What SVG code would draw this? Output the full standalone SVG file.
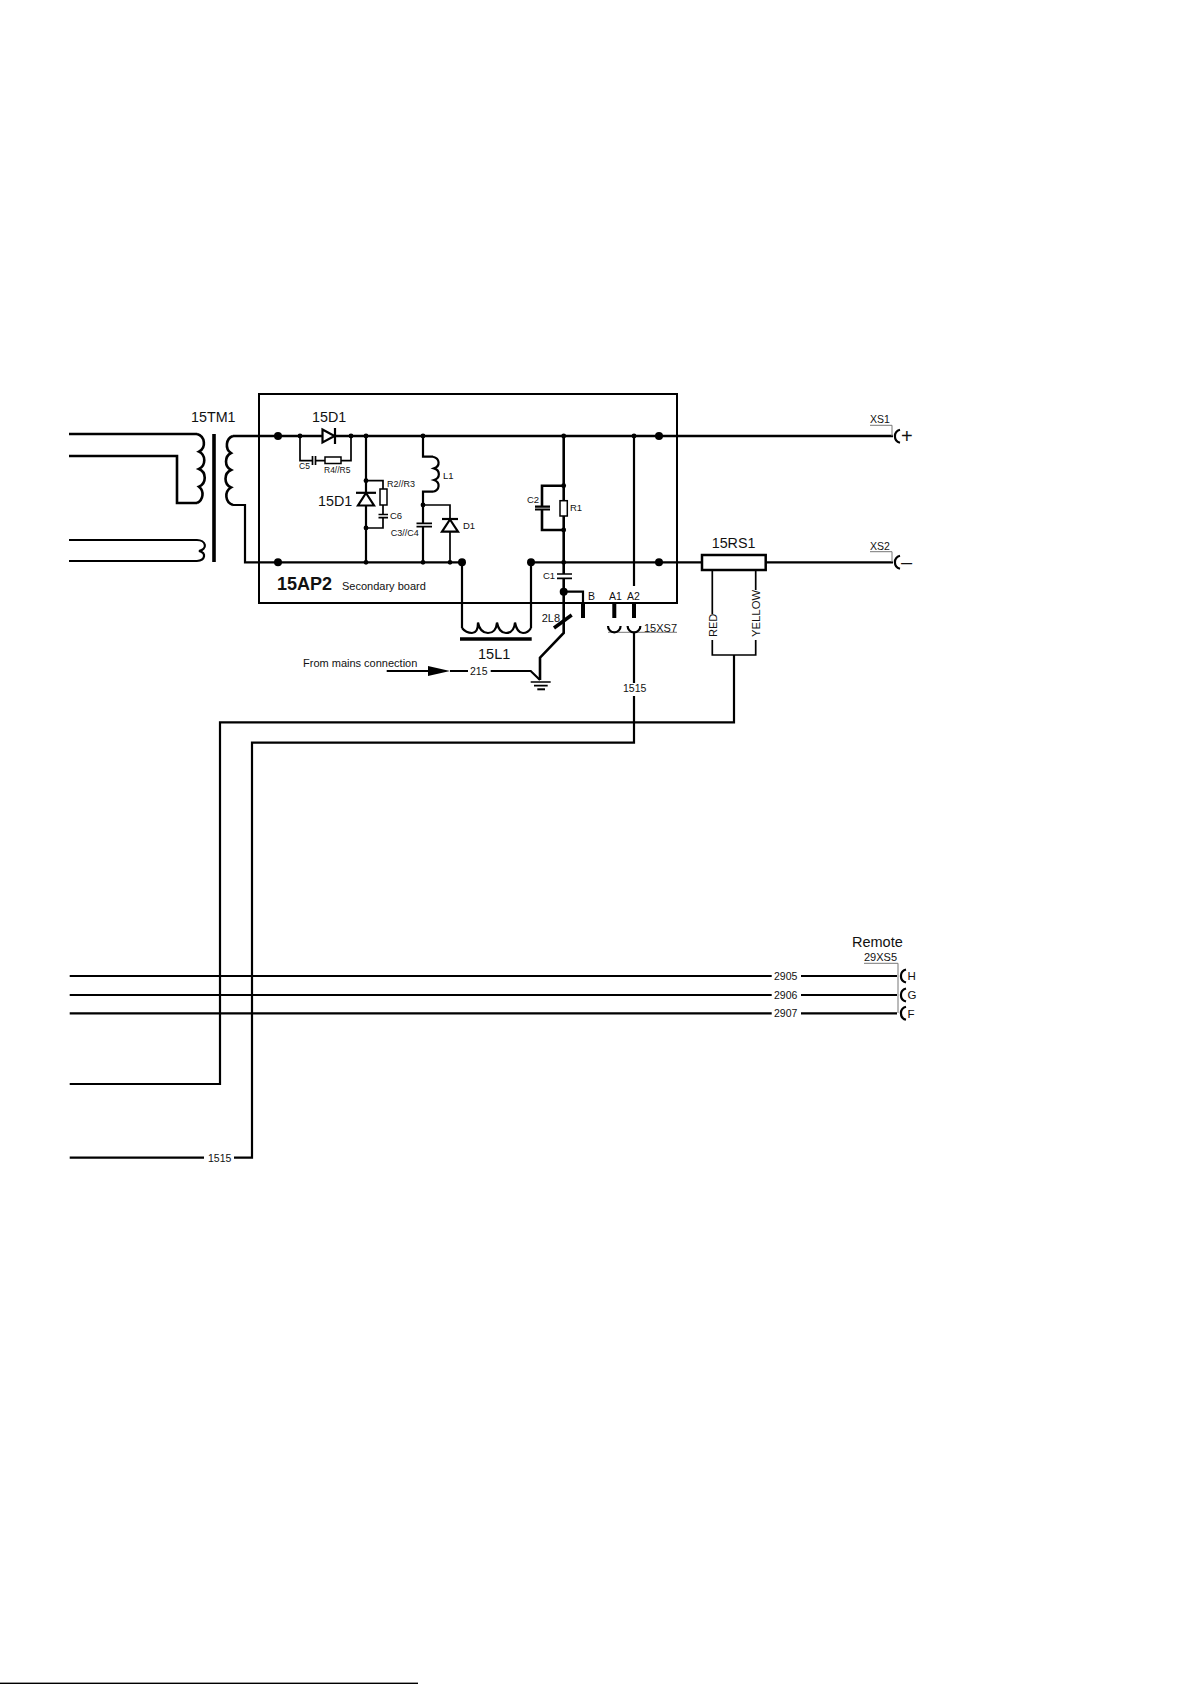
<svg xmlns="http://www.w3.org/2000/svg" width="1191" height="1684" viewBox="0 0 1191 1684">
<style>
text{font-family:"Liberation Sans",Arial,sans-serif;fill:#111}
.w{fill:none;stroke:#000;stroke-width:2.2;stroke-linejoin:miter}
.h{fill:none;stroke:#000;stroke-width:2.6}
.m{fill:none;stroke:#000;stroke-width:1.7}
.t{fill:none;stroke:#777;stroke-width:1}
.p{fill:none;stroke:#000;stroke-width:4}
.b{fill:#000}
.o{fill:#fff;stroke:#000;stroke-width:1.5}
.s7{font-size:8.5px}.s9{font-size:9.5px}.s10{font-size:10.5px}.s11{font-size:11px}.s14{font-size:14.3px}
</style>
<defs>
<circle id="big" r="4" class="b"/>
<circle id="dot" r="2.4" class="b"/>
<path id="sock" d="M8 -6.5A6.7 6.7 0 0 0 8 6.5" fill="none" stroke="#000" stroke-width="2.2"/>
</defs>
<rect width="1191" height="1684" fill="#fff"/>
<g id="connectors">
<path class="h" d="M69 434H197M69 456H177V503H197"/>
<path class="w" d="M69 540H197M69 561H197"/>
<path class="h" d="M233 436H322M335 436H893"/>
<path class="w" d="M233 505H245V562.3H462M531 562.3H702M766 562.3H893"/>
<path class="m" d="M300 436V460.7H312.5M315 460.7H325M341 460.7H351V436"/>
<path class="w" d="M366 436V493M366 506V562"/>
<path class="m" d="M366 480.7H383V489M383 505V514.5M383 517.7V528H366"/>
<path class="w" d="M423 436V456.7H433M433 491.7H423V523.3M423 526.7V562"/>
<path class="m" d="M423 505H450V519M450 532V562"/>
<path class="h" d="M563.7 436V500.7M563.7 516V574M563.7 578.3V633L540 657.7V680"/>
<path class="h" d="M563.7 485.7H542V507M542 509.5V530H563.7"/>
<path class="w" d="M563.7 591.7H583V603"/>
<path class="w" d="M634 436V586"/>
<path class="w" d="M462 562V628M531 562V628"/>
<path class="w" d="M634 633V683M634 696V742.7H252V1157.7H234M204 1157.7H69.7"/>
<path class="m" d="M712.3 570V614M712.3 640V655H755.7V640M755.7 590V570"/>
<path class="w" d="M734 655V722.3H220V1084H69.7"/>
<path class="w" d="M386.7 671H428M450 671H468M490.7 671H530.7L540 680"/>
<path class="w" d="M69.7 976H771.7M801 976H897M69.7 995H771.7M801 995H897M69.7 1013.3H771.7M801 1013.3H897"/>
<path class="t" d="M870 425.3H892V436M870 551.7H892V562M864 963.3H898V1013M608 632.3H677"/>
</g>
<g id="frame-15AP2"><path d="M259 394H677V603H259Z" fill="none" stroke="#000" stroke-width="2"/>
<text x="277" y="590" font-size="18" font-weight="bold">15AP2</text>
<text x="342" y="590" class="s11">Secondary board</text></g>
<g id="n-15TM1">
<path class="h" d="M197 434A9 9.5 0 0 1 199 451.7A9 9.5 0 0 1 199 469A9 9.5 0 0 1 199 486.7A9 9.5 0 0 1 197 503"/>
<path class="w" d="M197 540A8 5.6 0 0 1 199 551A8 5.2 0 0 1 197 561"/>
<path class="h" d="M233 436A9 9.5 0 0 0 231 453A9 9.5 0 0 0 231 470A9 9.5 0 0 0 231 487.5A9 9.5 0 0 0 233 505"/>
<path d="M214 434V562" stroke="#000" stroke-width="3.6" fill="none"/>
<text x="191" y="422" class="s14">15TM1</text></g>
<g id="n-D-top"><path d="M322.5 429.5L334.5 436L322.5 442.5Z" fill="#fff" stroke="#000" stroke-width="2.2"/><path class="w" d="M335 428V444"/>
<text x="312" y="422" class="s14">15D1</text></g>
<g id="n-C5"><path class="m" d="M312.5 456V465M315.5 456V465"/><text x="299" y="469" class="s7">C5</text></g>
<g id="n-R4"><rect x="325" y="457" width="16" height="6.5" class="o"/><text x="324" y="473" class="s7">R4//R5</text></g>
<g id="n-D2"><path d="M366 493L374 505.5H358Z" fill="#fff" stroke="#000" stroke-width="2.2"/><path class="w" d="M356 492.8H376"/>
<text x="318" y="506" class="s14">15D1</text></g>
<g id="n-R2"><rect x="380" y="489" width="7" height="16" class="o"/><text x="387" y="487" style="font-size:9px">R2//R3</text></g>
<g id="n-C6"><path class="m" d="M378.5 514.5H388M378.5 517.7H388"/><text x="390" y="519" class="s9">C6</text></g>
<g id="n-L1"><path class="w" d="M433 456.7A7.5 6.2 0 0 1 434 468.4A7.5 6.2 0 0 1 434 480A7.5 6.2 0 0 1 433 491.7"/><text x="443" y="479" class="s9">L1</text></g>
<g id="n-C3"><path class="m" d="M416.5 523.3H432M416.5 526.7H432"/><text x="390.7" y="536" style="font-size:9px">C3//C4</text></g>
<g id="n-D1"><path d="M450 519.5L458 531.7H442Z" fill="#fff" stroke="#000" stroke-width="2.2"/><path class="w" d="M442 519H458"/><text x="463" y="528.5" class="s9">D1</text></g>
<g id="n-C2"><path class="w" d="M535 506.7H550M535 509.5H550"/><text x="527" y="503" class="s9">C2</text></g>
<g id="n-R1"><rect x="560" y="500.7" width="7.3" height="15.3" class="o"/><text x="570" y="511" class="s9">R1</text></g>
<g id="n-C1"><path class="m" d="M557 574H572M557 578.3H572"/><text x="543" y="579" class="s9">C1</text></g>
<g id="n-15L1"><path class="w" d="M462 628Q466 633 472 633Q478 633 478 622.5Q480 633 488 633Q496 633 497 622.5Q499 633 506 633Q514 633 515 622.5Q517 633 523 633Q528 633 531 628"/>
<path d="M460 639H531.7" stroke="#000" stroke-width="3.6"/><text x="478" y="659" style="font-size:14.5px">15L1</text></g>
<g id="n-2L8"><path d="M554 628L571.7 615" stroke="#000" stroke-width="3.5"/><text x="541.7" y="622" class="s11">2L8</text></g>
<g id="n-ground"><path class="m" d="M530.7 682H550.7M534 685.7H547.7"/><path d="M537.3 689.3H545" stroke="#000" stroke-width="2"/></g>
<g id="n-mains"><path class="b" d="M428 666L450 671L428 676Z"/><text x="303" y="667" class="s11">From mains connection</text><text x="470" y="675" class="s10">215</text></g>
<g id="n-15XS7">
<path class="p" d="M583 603V618M614.3 603V618M634 603V618"/>
<path d="M608 626A6.3 6.3 0 0 0 620.6 626M627.6 626A6.4 6.4 0 0 0 640.4 626" fill="none" stroke="#000" stroke-width="2.2"/>
<text x="588" y="600" class="s10">B</text><text x="609" y="600" class="s10">A1</text><text x="627" y="600" class="s10">A2</text>
<text x="644" y="632" class="s11">15XS7</text><text x="623" y="692" class="s10">1515</text></g>
<g id="n-15RS1"><rect x="702" y="555" width="63.7" height="15" fill="#fff" stroke="#000" stroke-width="2.5"/>
<text x="711.7" y="548" class="s14">15RS1</text>
<text transform="translate(717 637) rotate(-90)" class="s11">RED</text><text transform="translate(760 637) rotate(-90)" style="font-size:11.3px">YELLOW</text></g>
<g id="n-XS1"><use href="#sock" x="892" y="436.3"/><text x="870" y="423.3" class="s10">XS1</text><text x="901" y="443" style="font-size:20px">+</text></g>
<g id="n-XS2"><use href="#sock" x="892" y="562.3"/><text x="870" y="550" class="s10">XS2</text><text x="901" y="569" style="font-size:20px">–</text></g>
<g id="n-29XS5"><use href="#sock" x="898" y="976"/><use href="#sock" x="898" y="995"/><use href="#sock" x="898" y="1013.3"/>
<text x="852" y="947" style="font-size:14.5px">Remote</text><text x="864" y="961" class="s11">29XS5</text>
<text x="907.5" y="980" style="font-size:11.5px">H</text><text x="907.5" y="999" style="font-size:11.5px">G</text><text x="907.5" y="1017.5" style="font-size:11.5px">F</text>
<text x="774" y="979.5" class="s10">2905</text><text x="774" y="998.5" class="s10">2906</text><text x="774" y="1017" class="s10">2907</text></g>
<g id="n-1515-left"><text x="208" y="1162" class="s10">1515</text></g>
<g id="dots">
<use href="#big" x="278" y="436"/><use href="#big" x="278" y="562.3"/><use href="#big" x="462" y="562.3"/><use href="#big" x="531" y="562.3"/><use href="#big" x="659" y="436"/><use href="#big" x="659" y="562.3"/><use href="#big" x="563.7" y="591.7"/>
<use href="#dot" x="300" y="436"/><use href="#dot" x="351" y="436"/><use href="#dot" x="366" y="436"/><use href="#dot" x="423" y="436"/><use href="#dot" x="563.7" y="436"/><use href="#dot" x="634" y="436"/>
<use href="#dot" x="366" y="480.7"/><use href="#dot" x="366" y="528"/><use href="#dot" x="423" y="505"/><use href="#dot" x="563.7" y="485.7"/><use href="#dot" x="563.7" y="530"/>
<use href="#dot" x="366" y="562.3"/><use href="#dot" x="423" y="562.3"/><use href="#dot" x="450" y="562.3"/><use href="#dot" x="563.7" y="562.3"/>
</g>
<rect x="0" y="1682.6" width="418" height="1.4" fill="#000"/>
</svg>
